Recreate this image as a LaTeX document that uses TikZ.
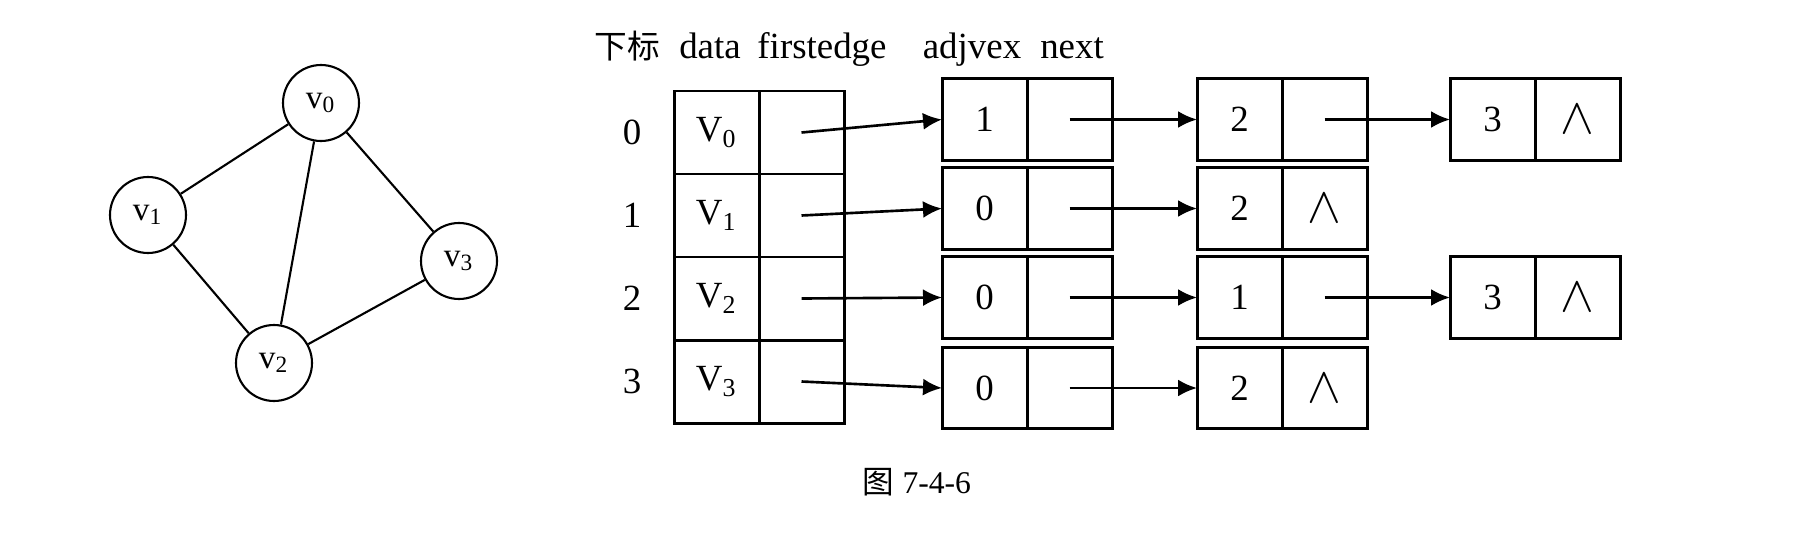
\documentclass[tikz,border=0pt]{standalone}
\usepackage{fontspec}
\setmainfont{Liberation Serif}
\newfontfamily\cjk{Noto Sans CJK SC}
\usetikzlibrary{positioning,arrows.meta}

\begin{document}
\begin{tikzpicture}[-,>={Latex[length=1.9mm,width=1.7mm]},line width=0.6pt,
    main node/.style={circle,draw,minimum size=0.76cm,inner sep=0pt,font=\fontsize{9.5}{10}\selectfont},
    cell/.style={rectangle,draw,line width=0.85pt,minimum width=0.85cm,minimum height=0.83cm,inner sep=0pt,outer sep=0pt,font=\fontsize{10.5}{12}\selectfont},
    enode/.style={cell,minimum height=0.815cm},
    nil/.style={font=\Large},
    lbl/.style={font=\fontsize{10.5}{12}\selectfont}]

    \useasboundingbox (0,0) rectangle (18.02,5.45);

    % the graph
    \node[main node]  (v0) at (3.21,4.42) {v\textsubscript{0}};
    \node[main node]  (v1) at (1.48,3.30) {v\textsubscript{1}};
    \node[main node]  (v2) at (2.74,1.82) {v\textsubscript{2}};
    \node[main node]  (v3) at (4.59,2.84) {v\textsubscript{3}};

    \path
        (v0) edge (v1)
        (v0) edge (v2)
        (v0) edge (v3)
        (v1) edge (v2)
        (v2) edge (v3)
    ;

    % header line
    \node[lbl, anchor=base]  (h1) at (6.27,4.87) {{\cjk\fontsize{9.3}{10}\selectfont 下标}};
    \node[lbl, anchor=base]  (h2) at (7.10,4.87) {data};
    \node[lbl, anchor=base]  (h3) at (8.22,4.87) {firstedge};
    \node[lbl, anchor=base]  (h4) at (9.72,4.87) {adjvex};
    \node[lbl, anchor=base]  (h5) at (10.72,4.87) {next};

    % vertex table
    \node[cell]  (d0) at (7.165,4.125) {V\textsubscript{0}};
    \node[cell]  (f0) [right=0pt of d0] {};
    \node[cell]  (d1) [below=0pt of d0] {V\textsubscript{1}};
    \node[cell]  (f1) [right=0pt of d1] {};
    \node[cell]  (d2) [below=0pt of d1] {V\textsubscript{2}};
    \node[cell]  (f2) [right=0pt of d2] {};
    \node[cell]  (d3) [below=0pt of d2] {V\textsubscript{3}};
    \node[cell]  (f3) [right=0pt of d3] {};

    \node[lbl]  (i0) at (6.32,4.125) {0};
    \node[lbl]  (i1) at (6.32,3.295) {1};
    \node[lbl]  (i2) at (6.32,2.465) {2};
    \node[lbl]  (i3) at (6.32,1.635) {3};

    % edge lists
    \node[enode]  (a00) at (9.845,4.255) {1};
    \node[enode]  (n00) [right=0pt of a00] {};
    \node[enode]  (a01) at (12.395,4.255) {2};
    \node[enode]  (n01) [right=0pt of a01] {};
    \node[enode]  (a02) at (14.925,4.255) {3};
    \node[enode, nil]  (n02) [right=0pt of a02] {$\wedge$};

    \node[enode]  (a10) at (9.845,3.365) {0};
    \node[enode]  (n10) [right=0pt of a10] {};
    \node[enode]  (a11) at (12.395,3.365) {2};
    \node[enode, nil]  (n11) [right=0pt of a11] {$\wedge$};

    \node[enode]  (a20) at (9.845,2.475) {0};
    \node[enode]  (n20) [right=0pt of a20] {};
    \node[enode]  (a21) at (12.395,2.475) {1};
    \node[enode]  (n21) [right=0pt of a21] {};
    \node[enode]  (a22) at (14.925,2.475) {3};
    \node[enode, nil]  (n22) [right=0pt of a22] {$\wedge$};

    \node[enode]  (a30) at (9.845,1.57) {0};
    \node[enode]  (n30) [right=0pt of a30] {};
    \node[enode]  (a31) at (12.395,1.57) {2};
    \node[enode, nil]  (n31) [right=0pt of a31] {$\wedge$};

    \path[->, line width=0.75pt]
        (f0.center) edge (a00.west)
        (f1.center) edge (a10.west)
        (f2.center) edge (a20.west)
        (f3.center) edge (a30.west)
        (n00.center) edge (a01.west)
        (n01.center) edge (a02.west)
        (n10.center) edge (a11.west)
        (n20.center) edge (a21.west)
        (n21.center) edge (a22.west)
        (n30.center) edge (a31.west)
    ;

    \node[lbl, anchor=base, font=\fontsize{9}{10}\selectfont]  (cap) at (9.17,0.52) {{\cjk 图} 7-4-6};
\end{tikzpicture}
\end{document}
